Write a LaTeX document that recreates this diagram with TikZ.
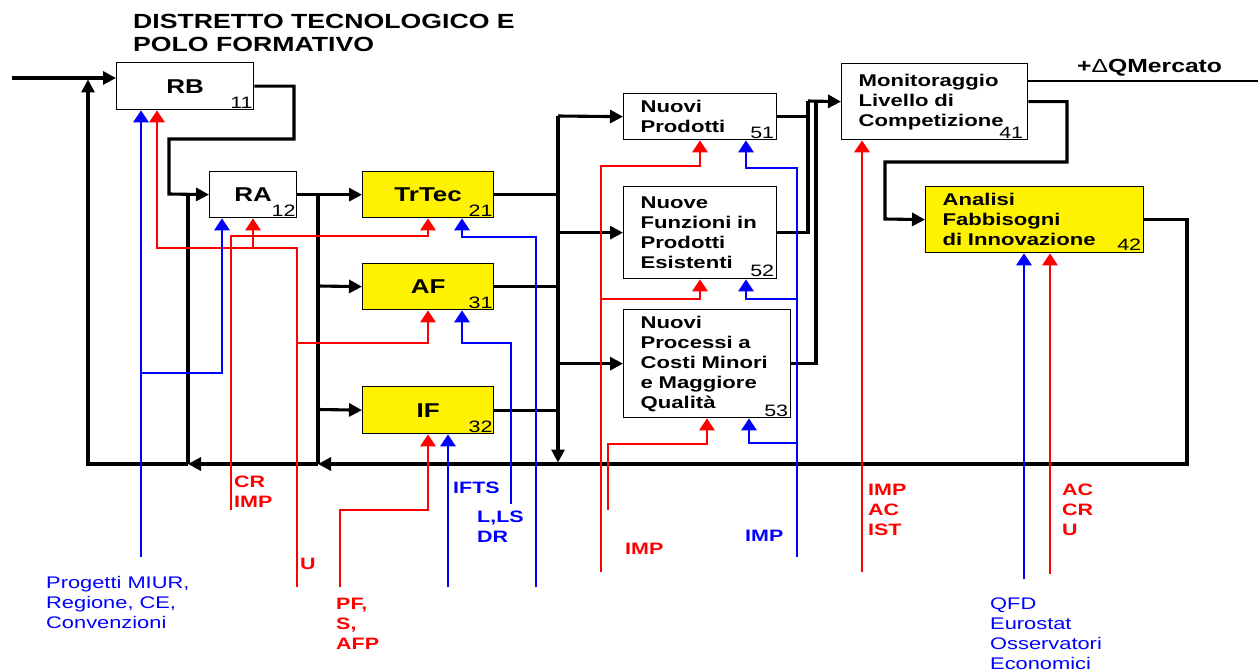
\documentclass[tikz,border=0pt]{standalone}
\usepackage{fontspec}
\setmainfont{Liberation Sans}[FakeStretch=1.3]
\usetikzlibrary{arrows.meta, positioning}
\tikzstyle{block} = [rectangle, draw, line width=1.3pt, anchor=north west, inner sep=0pt, font=\fontsize{20}{24}\selectfont\bfseries]
\tikzstyle{process} = [block, fill=yellow]
\tikzstyle{textblock} = [block, inner xsep=17pt, font=\fontsize{17}{20}\selectfont\bfseries]
\tikzstyle{num} = [inner sep=0pt, font=\fontsize{16.5}{17}\selectfont]
\tikzstyle{wire} = [draw, line width=3.1pt]
\tikzstyle{arrow} = [wire, -{Triangle[length=13pt,width=13pt]}]
\tikzstyle{redarrow} = [draw, red, line width=2.9pt, -{Triangle[length=12pt,width=15pt]}]
\tikzstyle{bluearrow} = [redarrow, blue]
\tikzstyle{tag} = [inner sep=0pt, anchor=west, font=\fontsize{16.5}{20}\selectfont\bfseries]
\tikzstyle{source} = [tag, blue, font=\fontsize{16.8}{20}\selectfont]

\begin{document}
\begin{tikzpicture}[
    x=1pt, y=-1pt,
    every node/.style={align=left}
]
    \useasboundingbox (0,0) rectangle (1258,671);
    \node[tag, font=\fontsize{20.5}{23}\selectfont\bfseries] (title) at (133,32.5) {DISTRETTO TECNOLOGICO E\\POLO FORMATIVO};

    % blocks
    \node[block, minimum width=137pt, minimum height=47pt] (rb) at (116,62) {RB};
    \node[block, minimum width=87pt, minimum height=46pt] (ra) at (209,171) {RA};
    \node[process, minimum width=131pt, minimum height=46pt] (trtec) at (362,171) {TrTec};
    \node[process, minimum width=131pt, minimum height=46pt] (af) at (362,263) {AF};
    \node[process, minimum width=131pt, minimum height=47pt] (iff) at (362,386) {IF};
    \node[textblock, text width=119pt, minimum width=153pt, minimum height=46pt] (np) at (623,93) {Nuovi\\Prodotti};
    \node[textblock, text width=119pt, minimum width=153pt, minimum height=92pt] (nf) at (623,186) {Nuove\\Funzioni in\\Prodotti\\Esistenti};
    \node[textblock, text width=133pt, minimum width=167pt, minimum height=108pt] (npr) at (623,309) {Nuovi\\Processi a\\Costi Minori\\e Maggiore\\Qualità};
    \node[textblock, text width=152pt, minimum width=186pt, minimum height=76pt] (mon) at (841,63) {Monitoraggio\\Livello di\\Competizione};
    \node[textblock, fill=yellow, text width=184pt, minimum width=218pt, minimum height=66pt] (anf) at (925,186) {Analisi\\Fabbisogni\\di Innovazione};

    \node[num, above left=1.5pt and 1.5pt of rb.south east] (rbnum) {11};
    \node[num, above left=1.5pt and 1.5pt of ra.south east] (ranum) {12};
    \node[num, above left=1.5pt and 1.5pt of trtec.south east] (trtecnum) {21};
    \node[num, above left=1.5pt and 1.5pt of af.south east] (afnum) {31};
    \node[num, above left=1.5pt and 1.5pt of iff.south east] (iffnum) {32};
    \node[num, above left=1.5pt and 3pt of np.south east] (npnum) {51};
    \node[num, above left=2pt and 3pt of nf.south east] (nfnum) {52};
    \node[num, above left=1.5pt and 3pt of npr.south east] (nprnum) {53};
    \node[num, above left=2pt and 5pt of mon.south east] (monnum) {41};
    \node[num, above left=3pt and 3pt of anf.south east] (anfnum) {42};

    % labels
    \node[tag, red] (crimp) at (234,491.5) {CR\\IMP};
    \node[tag, red] (ulab) at (300,564) {U};
    \node[tag, red] (pflab) at (336,623.5) {PF,\\S,\\AFP};
    \node[tag, blue] (iftslab) at (453,488) {IFTS};
    \node[tag, blue] (llslab) at (477,527) {L,LS\\DR};
    \node[tag, red] (impa) at (625,549) {IMP};
    \node[tag, blue] (impb) at (745,536) {IMP};
    \node[tag, red] (impacist) at (868,510) {IMP\\AC\\IST};
    \node[tag, red] (accru) at (1062,510) {AC\\CR\\U};
    \node[source] (miur) at (46,602) {Progetti MIUR,\\Regione, CE,\\Convenzioni};
    \node[source] (qfd) at (990,633.5) {QFD\\Eurostat\\Osservatori\\Economici};
    \node[tag, font=\fontsize{19}{22}\selectfont\bfseries] (mkt) at (1077,68) {+{\mdseries Δ}QMercato};

    % free ends and junctions
    \coordinate (in) at (12,78);
    \coordinate (jtop) at (88,79.5);
    \coordinate (ja) at (188,194);
    \coordinate (jb) at (188,464);
    \coordinate (jc) at (318,194);
    \coordinate (jd) at (318,464);
    \coordinate (je) at (318,286);
    \coordinate (jf) at (318,409.5);
    \coordinate (jg) at (558,116);
    \coordinate (jh) at (558,462.5);
    \coordinate (jk) at (808,101);
    \coordinate (jl) at (816,101);
    \coordinate (jr) at (1187,464);
    \coordinate (mktend) at (1258,81);

    \coordinate (inU) at (297,587);
    \coordinate (inCR) at (231,510);
    \coordinate (inPF) at (340,587);
    \coordinate (inImpA) at (601,572);
    \coordinate (inImpB) at (608,510);
    \coordinate (inMon) at (862,572);
    \coordinate (inAn) at (1050,574);
    \coordinate (rj1) at (253,248);
    \coordinate (rj2) at (297,343);
    \coordinate (rj3) at (601,299);

    \coordinate (inMiur) at (141,557);
    \coordinate (inIfts) at (448,587);
    \coordinate (inLls) at (511,504);
    \coordinate (inTr) at (536,587);
    \coordinate (inImpC) at (797,557);
    \coordinate (inQfd) at (1024,579);
    \coordinate (bj1) at (141,373);
    \coordinate (bj2) at (797,299);
    \coordinate (bj3) at (797,443);

    % black flow
    \path[arrow] (in) -- (in -| rb.west);
    \path[arrow] (rb.east) -| (294,139) -| (169,194) -- (ra.west);
    \path[wire] (ja) -- (jb);
    \path[arrow] (ra.east) -- (trtec.west);
    \path[wire] (jc) -- (jd);
    \path[arrow] (je) -- (af.west);
    \path[arrow] (jf) -- (iff.west);
    \path[wire] (trtec.east) -- (trtec.east -| jg);
    \path[wire] (af.east) -- (af.east -| jg);
    \path[wire] (iff.east) -- (iff.east -| jg);
    \path[arrow] (jg) -- (jh);
    \path[arrow] (jg) -- (np.west);
    \path[arrow] (nf.west -| jg) -- (nf.west);
    \path[arrow] (npr.west -| jg) -- (npr.west);
    \path[wire] (np.east) -| (jk);
    \path[wire] (nf.east) -| (jk);
    \path[wire] (npr.east) -| (jl);
    \path[arrow] (jk) -- (mon.west);
    \path[arrow] (mon.east) -| (1067,162) -| (885,219) -- (anf.west);
    \path[wire, line width=1.5pt] (mon.east |- mktend) -- (mktend);
    \path[arrow] (anf.east) -| (jr) -- (jd);
    \path[arrow] (jd) -- (jb);
    \path[arrow] (jb) -| (jtop);

    % red inputs
    \path[redarrow] (inU) |- (157,248) -- ([xshift=41pt]rb.south west);
    \path[redarrow] (rj1) -- ([xshift=44pt]ra.south west);
    \path[redarrow] (rj2) -| ([xshift=66pt]af.south west);
    \path[redarrow] (inCR) -- (231,236) -| ([xshift=66pt]trtec.south west);
    \path[redarrow] (inPF) -- (340,510) -| ([xshift=66pt]iff.south west);
    \path[redarrow] (inImpA) -- (601,166) -| ([xshift=77pt]np.south west);
    \path[redarrow] (rj3) -| ([xshift=77pt]nf.south west);
    \path[redarrow] (inImpB) -- (608,444) -| ([xshift=84pt]npr.south west);
    \path[redarrow] (inMon) -- ([xshift=21pt]mon.south west);
    \path[redarrow] (inAn) -- ([xshift=125pt]anf.south west);

    % blue inputs
    \path[bluearrow] (inMiur) -- ([xshift=25pt]rb.south west);
    \path[bluearrow] (bj1) -| ([xshift=13pt]ra.south west);
    \path[bluearrow] (inIfts) -- ([xshift=86pt]iff.south west);
    \path[bluearrow] (inLls) -- (511,343) -| ([xshift=100pt]af.south west);
    \path[bluearrow] (inTr) -- (536,237) -| ([xshift=100pt]trtec.south west);
    \path[bluearrow] (inImpC) -- (797,168) -| ([xshift=123pt]np.south west);
    \path[bluearrow] (bj2) -| ([xshift=123pt]nf.south west);
    \path[bluearrow] (bj3) -| ([xshift=126pt]npr.south west);
    \path[bluearrow] (inQfd) -- ([xshift=99pt]anf.south west);
\end{tikzpicture}
\end{document}
